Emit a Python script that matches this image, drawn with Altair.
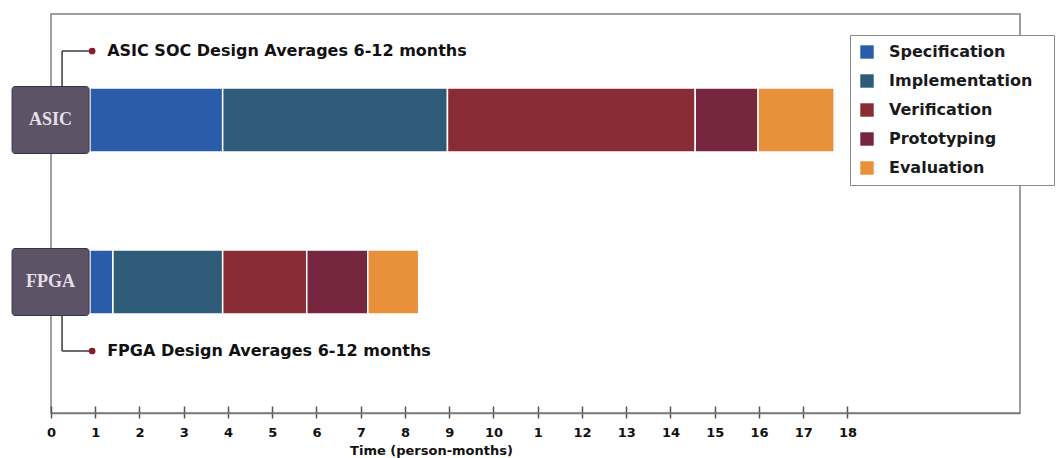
import json
import altair as alt
import pandas as pd

# ---- data ----
phases = ["Specification", "Implementation", "Verification", "Prototyping", "Evaluation"]
phase_colors = ["#2a5caa", "#2d5b78", "#8a2c34", "#76263f", "#e8903a"]
rows = ["ASIC", "FPGA"]
bar_start = 0.88
asic_ends = [3.88, 8.96, 14.56, 15.98, 17.70]
fpga_ends = [1.40, 3.88, 5.78, 7.16, 8.31]
box_start = -0.88
box_end = 0.86
notes = ["ASIC SOC Design Averages 6-12 months", "FPGA Design Averages 6-12 months"]
note_sides = [-1, 1]
tick_values = list(range(19))
tick_labels = ["0", "1", "2", "3", "4", "5", "6", "7", "8", "9", "10",
               "1", "12", "13", "14", "15", "16", "17", "18"]
axis_title = "Time (person-months)"
x_max = 21.9

# ---- tables ----
seg_records = []
for row, ends in zip(rows, [asic_ends, fpga_ends]):
    starts = [bar_start] + ends[:-1]
    for ph, s, e in zip(phases, starts, ends):
        seg_records.append({"row": row, "phase": ph, "start": s, "end": e})
segs = pd.DataFrame(seg_records)
boxes = pd.DataFrame({"row": rows, "b0": [box_start] * 2, "b1": [box_end] * 2,
                      "mid": [(box_start + box_end) / 2] * 2})
note_df = pd.DataFrame({"row": rows, "note": notes, "side": note_sides})

xs = alt.Scale(domain=[0, x_max], nice=False, zero=False)
ys = alt.Scale(type="point", domain=rows, range=[106, 268], padding=0)

FONT = "DejaVu Sans"
label_expr = json.dumps(tick_labels) + "[datum.value]"
pad = "\u2800" * 1

bottom_axis = alt.Axis(
    values=tick_values, labelExpr=label_expr, grid=False,
    domainColor="#7a7a7a", domainWidth=1.5,
    tickColor="#555555", tickSize=5, tickWidth=1.5,
    labelFont=FONT, labelFontWeight="bold", labelFontSize=13, labelColor="#111111",
    labelPadding=8, labelFlush=False,
    title=axis_title, titleFont=FONT, titleFontWeight="bold",
    titleFontSize=13, titleColor="#111111", titleX=380, titleY=31,
)
top_ticks = alt.Axis(
    orient="top", offset=-399, values=tick_values, labels=False, domain=False,
    grid=False, tickColor="#555555", tickSize=7, tickWidth=1.5, title=None,
)

bars = alt.Chart(segs).mark_bar(size=64, stroke="white", strokeWidth=1.5).encode(
    x=alt.X("start:Q", scale=xs, axis=bottom_axis),
    x2="end:Q",
    y=alt.Y("row:N", scale=ys, axis=None),
    color=alt.Color("phase:N", scale=alt.Scale(domain=phases, range=phase_colors),
                    legend=alt.Legend(
                        title=None, orient="none", legendX=799, legendY=21,
                        fillColor="white", strokeColor="#8a8a8a", padding=9,
                        symbolType="square", symbolSize=180, symbolStrokeWidth=0,
                        symbolOpacity=1, labelFont=FONT, labelFontWeight="bold",
                        labelFontSize=16, labelColor="#1a1a1a", labelOffset=14,
                        rowPadding=13, labelLimit=400,
                        labelExpr="datum.label + '" + pad + "'",
                    )),
    order=alt.Order("start:Q"),
)

ticks_up = alt.Chart(segs).mark_point(opacity=0).encode(
    x=alt.X("start:Q", scale=xs, axis=top_ticks),
    y=alt.Y("row:N", scale=ys, axis=None),
)

box = alt.Chart(boxes).mark_bar(size=67, cornerRadius=3, color="#5d5367",
                                stroke="#3a3242", strokeWidth=1).encode(
    x=alt.X("b0:Q", scale=xs, axis=None), x2="b1:Q",
    y=alt.Y("row:N", scale=ys, axis=None),
)
box_text = alt.Chart(boxes).mark_text(font="Liberation Serif", fontSize=18,
                                      fontWeight="bold", color="#e6dfea").encode(
    x=alt.X("mid:Q", scale=xs, axis=None),
    y=alt.Y("row:N", scale=ys, axis=None),
    text="row:N",
)

layers = [ticks_up, bars, box, box_text]
for row, side in zip(rows, note_sides):
    d = note_df[note_df["row"] == row]
    v = alt.Chart(d).mark_rule(color="#3a3a3a", strokeWidth=1.5,
                               yOffset=side * 34, y2Offset=side * 69).encode(
        x=alt.X(datum=0.25, scale=xs, axis=None),
        y=alt.Y("row:N", scale=ys, axis=None), y2="row:N",
    )
    h = alt.Chart(d).mark_rule(color="#3a3a3a", strokeWidth=1.5,
                               yOffset=side * 69).encode(
        x=alt.X(datum=0.25, scale=xs, axis=None), x2=alt.X2(datum=0.93),
        y=alt.Y("row:N", scale=ys, axis=None),
    )
    dot = alt.Chart(d).mark_circle(size=45, color="#8b1a2b", opacity=1,
                                   yOffset=side * 69).encode(
        x=alt.X(datum=0.93, scale=xs, axis=None),
        y=alt.Y("row:N", scale=ys, axis=None),
    )
    txt = alt.Chart(d).mark_text(align="left", baseline="middle", font=FONT,
                                 fontWeight="bold", fontSize=16, color="#111111",
                                 yOffset=side * 69).encode(
        x=alt.X(datum=1.27, scale=xs, axis=None),
        y=alt.Y("row:N", scale=ys, axis=None),
        text="note:N",
    )
    layers += [v, h, dot, txt]

chart = alt.layer(*layers).resolve_axis(x="independent").properties(
    width=969, height=399,
    autosize=alt.AutoSizeParams(type="none"),
    padding={"left": 51, "top": 14, "right": 38, "bottom": 45},
    background="white",
).configure_view(stroke="#808080", strokeWidth=1.5)

chart.save("out.html", embed_options={"renderer": "svg", "actions": False})
